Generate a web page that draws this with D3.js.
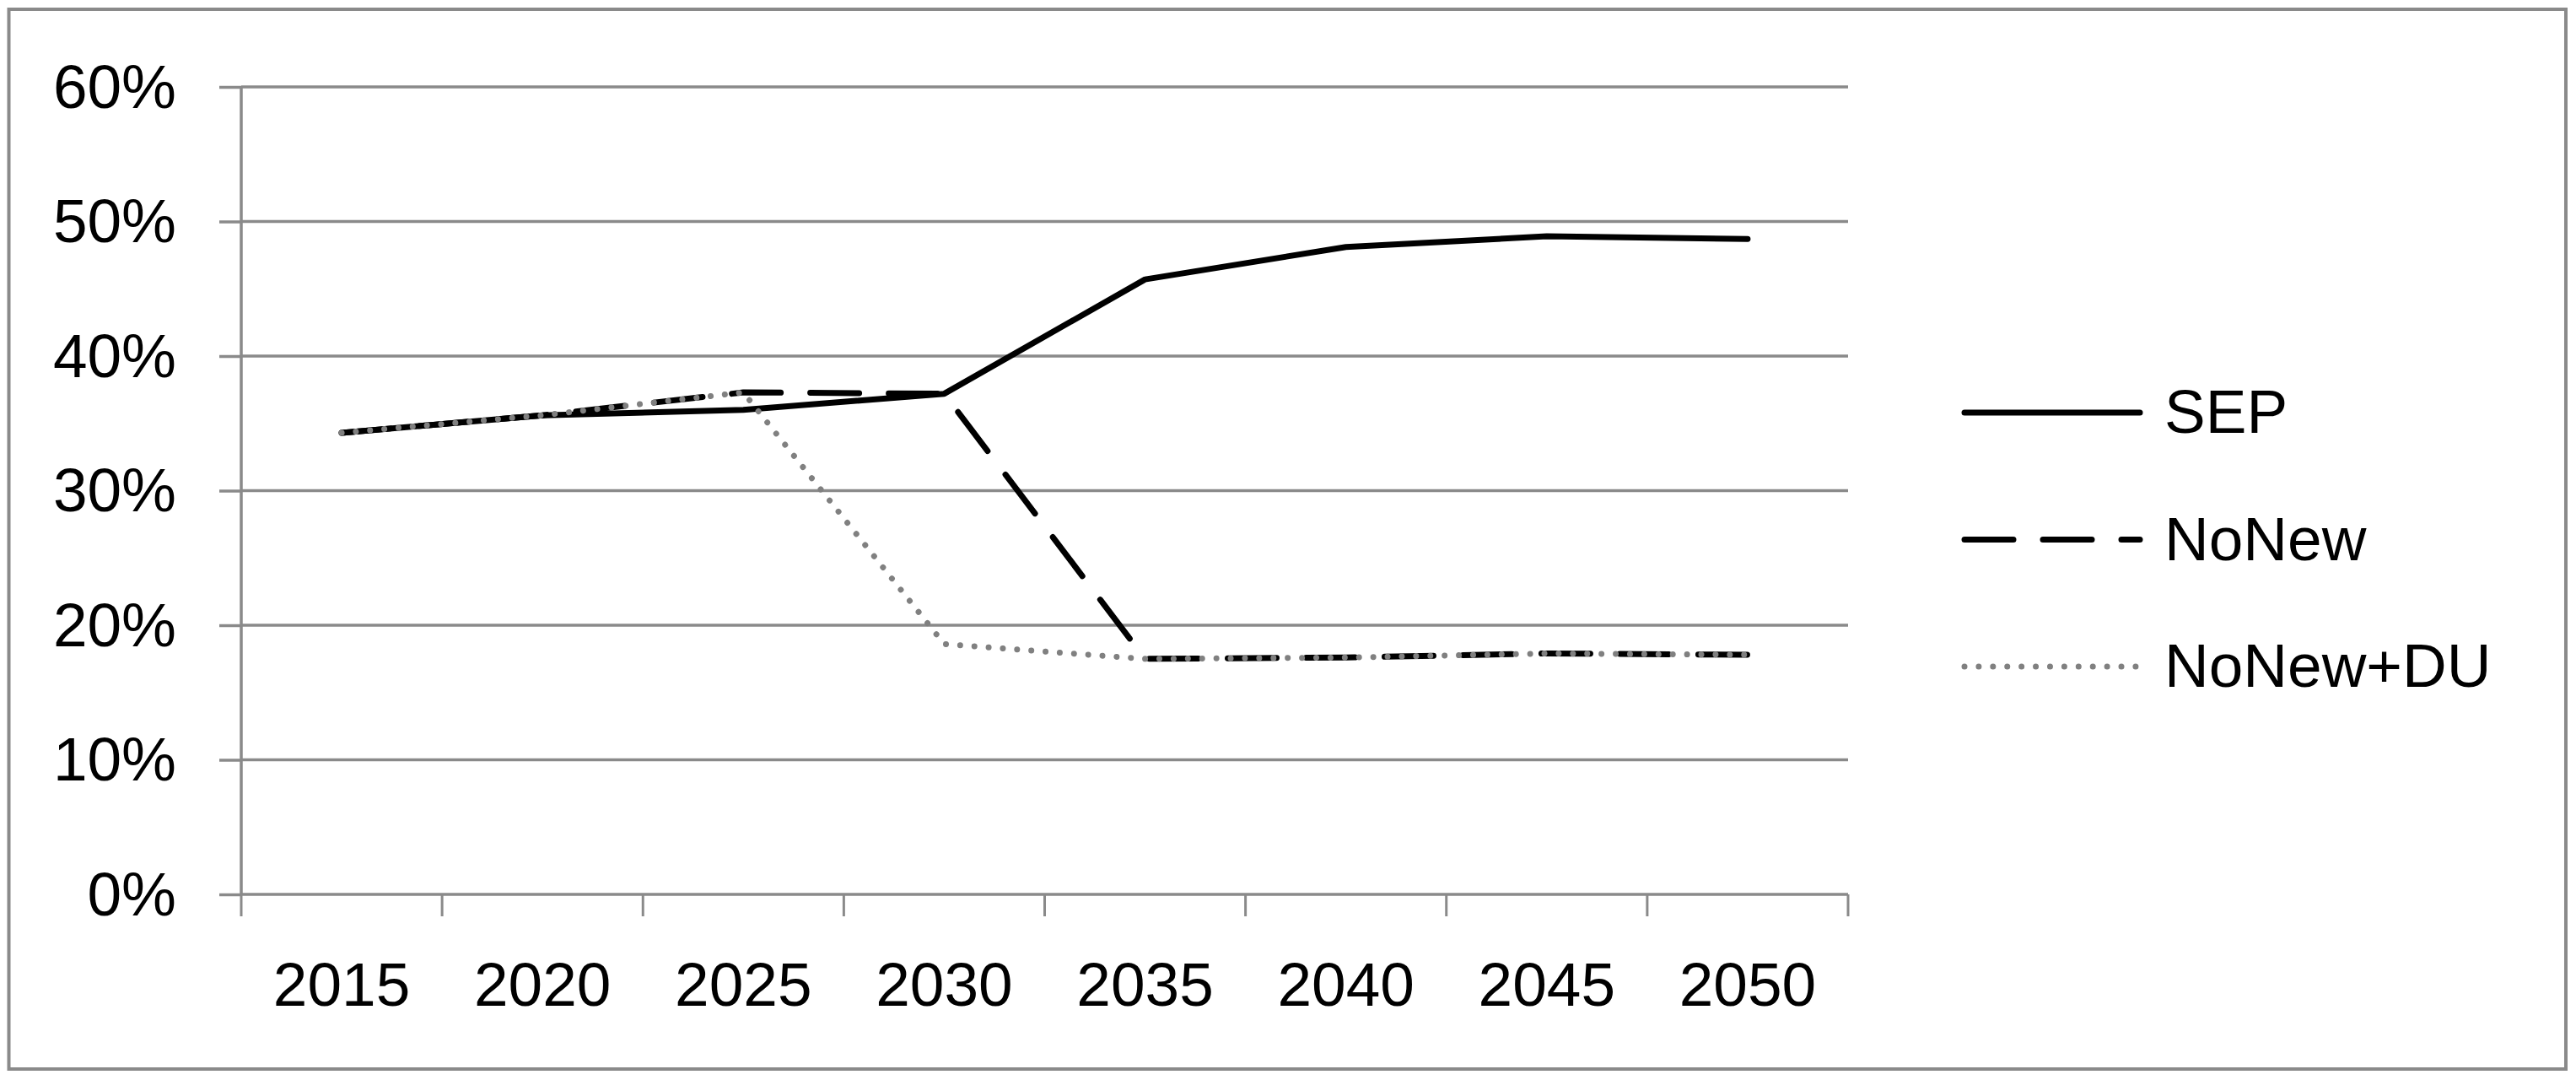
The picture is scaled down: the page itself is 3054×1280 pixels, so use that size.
<!DOCTYPE html>
<html>
<head>
<meta charset="utf-8">
<script src="https://cdn.jsdelivr.net/npm/d3@7"></script>
<style>
  html, body { margin: 0; padding: 0; background: #fff; }
  svg { display: block; }
  text { font-family: "Liberation Sans", Arial, sans-serif; fill: #000; }
</style>
</head>
<body>
<svg id="chart" width="3054" height="1280"></svg>
<script>
// ---- data ----
const years = ["2015", "2020", "2025", "2030", "2035", "2040", "2045", "2050"];
const sepValues = [34.3, 35.6, 36.0, 37.2, 45.7, 48.1, 48.9, 48.7];
const noNewValues = [34.3, 35.6, 37.3, 37.2, 17.5, 17.6, 17.9, 17.8];
const noNewDuValues = [34.3, 35.6, 37.3, 18.6, 17.5, 17.6, 17.9, 17.8];
const seriesNames = ["SEP", "NoNew", "NoNew+DU"];
const yTicks = [0, 10, 20, 30, 40, 50, 60];

const series = [
  { name: seriesNames[0], values: sepValues, color: "#000", width: 7, dash: null },
  { name: seriesNames[1], values: noNewValues, color: "#000", width: 7, dash: "58,35" },
  { name: seriesNames[2], values: noNewDuValues, color: "#808080", width: 7, dash: "0.01,16.9" }
];

const svg = d3.select("#chart");
const gridColor = "#8a8a8a";

// outer border
svg.append("rect")
  .attr("x", 10.5).attr("y", 11)
  .attr("width", 3042 - 10.5).attr("height", 1267 - 11)
  .attr("fill", "#fff").attr("stroke", gridColor).attr("stroke-width", 4);

const plot = { left: 286, right: 2191, top: 103, bottom: 1060 };

const x = d3.scaleBand().domain(years).range([plot.left, plot.right]).padding(0);
const y = d3.scaleLinear().domain([0, 60]).range([plot.bottom, plot.top]);

// y ticks + labels
const yAxis = d3.axisLeft(y).tickValues(yTicks).tickSize(plot.left - 260)
  .tickFormat(d => d + "%").tickPadding(51);
const gy = svg.append("g").attr("transform", `translate(${plot.left},0)`).call(yAxis);
gy.select(".domain").remove();
gy.selectAll(".tick line").attr("stroke", gridColor).attr("stroke-width", 3.5);
gy.selectAll(".tick text").attr("font-size", 73).attr("fill", "#000")
  .attr("font-family", '"Liberation Sans", Arial, sans-serif').attr("dy", "0.33em");

// gridlines
svg.append("g").selectAll("line").data(yTicks).join("line")
  .attr("x1", plot.left).attr("x2", plot.right)
  .attr("y1", d => y(d)).attr("y2", d => y(d))
  .attr("stroke", gridColor).attr("stroke-width", 3.5);

// y axis line
svg.append("line")
  .attr("x1", plot.left).attr("x2", plot.left)
  .attr("y1", plot.top).attr("y2", plot.bottom)
  .attr("stroke", gridColor).attr("stroke-width", 3.5);

// x axis: ticks between categories
const boundaries = years.map(d => x(d)).concat([plot.right]);
svg.append("g").selectAll("line").data(boundaries).join("line")
  .attr("x1", d => d).attr("x2", d => d)
  .attr("y1", plot.bottom).attr("y2", plot.bottom + 26)
  .attr("stroke", gridColor).attr("stroke-width", 3);

svg.append("g").selectAll("text").data(years).join("text")
  .attr("x", d => x(d) + x.bandwidth() / 2)
  .attr("y", 1192)
  .attr("text-anchor", "middle")
  .attr("font-size", 73)
  .text(d => d);

// lines
const line = d3.line()
  .x((d, i) => x(years[i]) + x.bandwidth() / 2)
  .y(d => y(d));

series.forEach(s => {
  svg.append("path")
    .datum(s.values)
    .attr("d", line)
    .attr("fill", "none")
    .attr("stroke", s.color)
    .attr("stroke-width", s.width)
    .attr("stroke-linecap", "round")
    .attr("stroke-linejoin", "round")
    .attr("stroke-dasharray", s.dash);
});

// legend
const legendX1 = 2329, legendX2 = 2537, legendTextX = 2566;
const legendY = d3.scalePoint().domain(seriesNames).range([489, 790]);
const lg = svg.append("g");
series.forEach(s => {
  const ly = legendY(s.name);
  lg.append("line")
    .attr("x1", legendX1).attr("x2", legendX2)
    .attr("y1", ly).attr("y2", ly)
    .attr("stroke", s.color)
    .attr("stroke-width", s.width)
    .attr("stroke-linecap", "round")
    .attr("stroke-dasharray", s.dash);
  lg.append("text")
    .attr("x", legendTextX)
    .attr("y", ly)
    .attr("dy", "0.33em")
    .attr("font-size", 73)
    .text(s.name);
});
</script>
</body>
</html>
